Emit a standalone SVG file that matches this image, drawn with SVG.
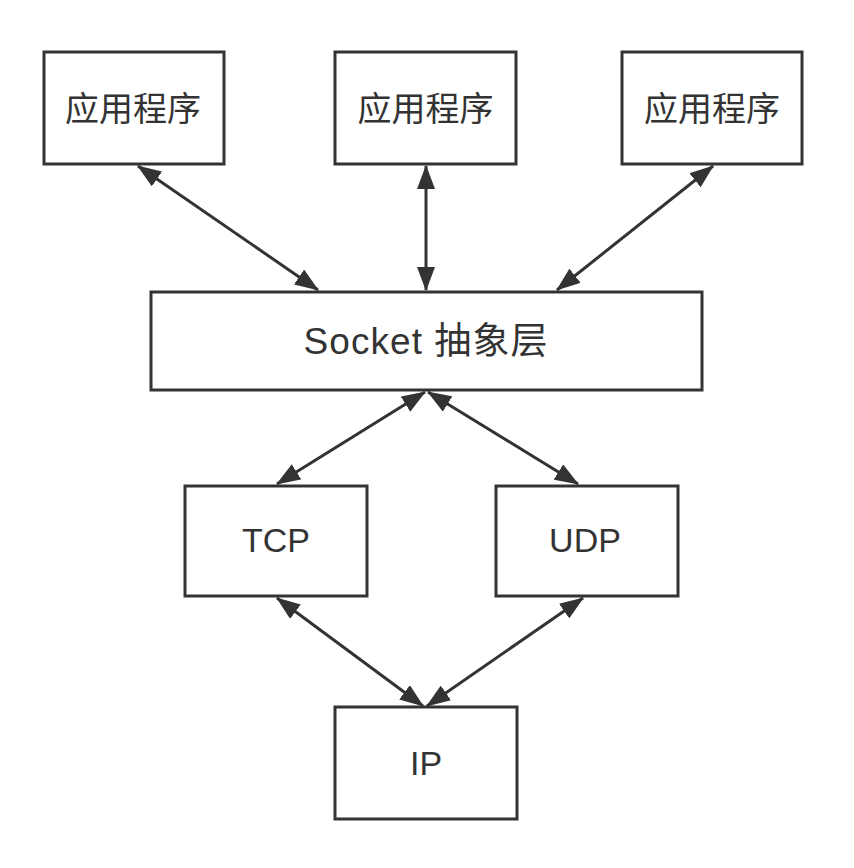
<svg xmlns="http://www.w3.org/2000/svg" width="854" height="868" viewBox="0 0 854 868">
<style>
.box{fill:#fff;stroke:#333;stroke-width:3}
.t{font-family:"Liberation Sans","Noto Sans CJK SC",sans-serif;font-size:34px;fill:#333;text-anchor:middle;dominant-baseline:central}
.c{stroke:#333;stroke-width:3;fill:none;marker-start:url(#a);marker-end:url(#a)}
</style>
<defs>
<marker id="a" viewBox="0 0 24 18" refX="23" refY="9" markerWidth="24" markerHeight="18" markerUnits="userSpaceOnUse" orient="auto-start-reverse">
<path d="M0,0 L24,9 L0,18 Z" fill="#333"/>
</marker>
</defs>
<rect width="854" height="868" fill="#fff"/>
<g id="connectors">
<line class="c" x1="138" y1="166" x2="318" y2="290"/>
<line class="c" x1="426" y1="166" x2="426" y2="290"/>
<line class="c" x1="713" y1="166" x2="557" y2="290"/>
<line class="c" x1="425" y1="392" x2="277" y2="484"/>
<line class="c" x1="428" y1="392" x2="578" y2="484"/>
<line class="c" x1="277" y1="598" x2="423" y2="706"/>
<line class="c" x1="583" y1="598" x2="427" y2="706"/>
</g>
<g id="app1"><rect class="box" x="44" y="52" width="180" height="112"/><text class="t" x="133" y="109">应用程序</text></g>
<g id="app2"><rect class="box" x="335" y="52" width="181" height="112"/><text class="t" x="425.5" y="109">应用程序</text></g>
<g id="app3"><rect class="box" x="622" y="52" width="180" height="112"/><text class="t" x="712" y="109">应用程序</text></g>
<g id="socket"><rect class="box" x="151" y="292" width="551" height="98"/><text class="t" x="425.5" y="341" style="font-size:37px" textLength="244">Socket 抽象层</text></g>
<g id="tcp"><rect class="box" x="185" y="486" width="182" height="110"/><text class="t" x="276" y="540">TCP</text></g>
<g id="udp"><rect class="box" x="496" y="486" width="182" height="110"/><text class="t" x="585" y="540">UDP</text></g>
<g id="ip"><rect class="box" x="335" y="707" width="182" height="112"/><text class="t" x="426" y="763">IP</text></g>
</svg>
